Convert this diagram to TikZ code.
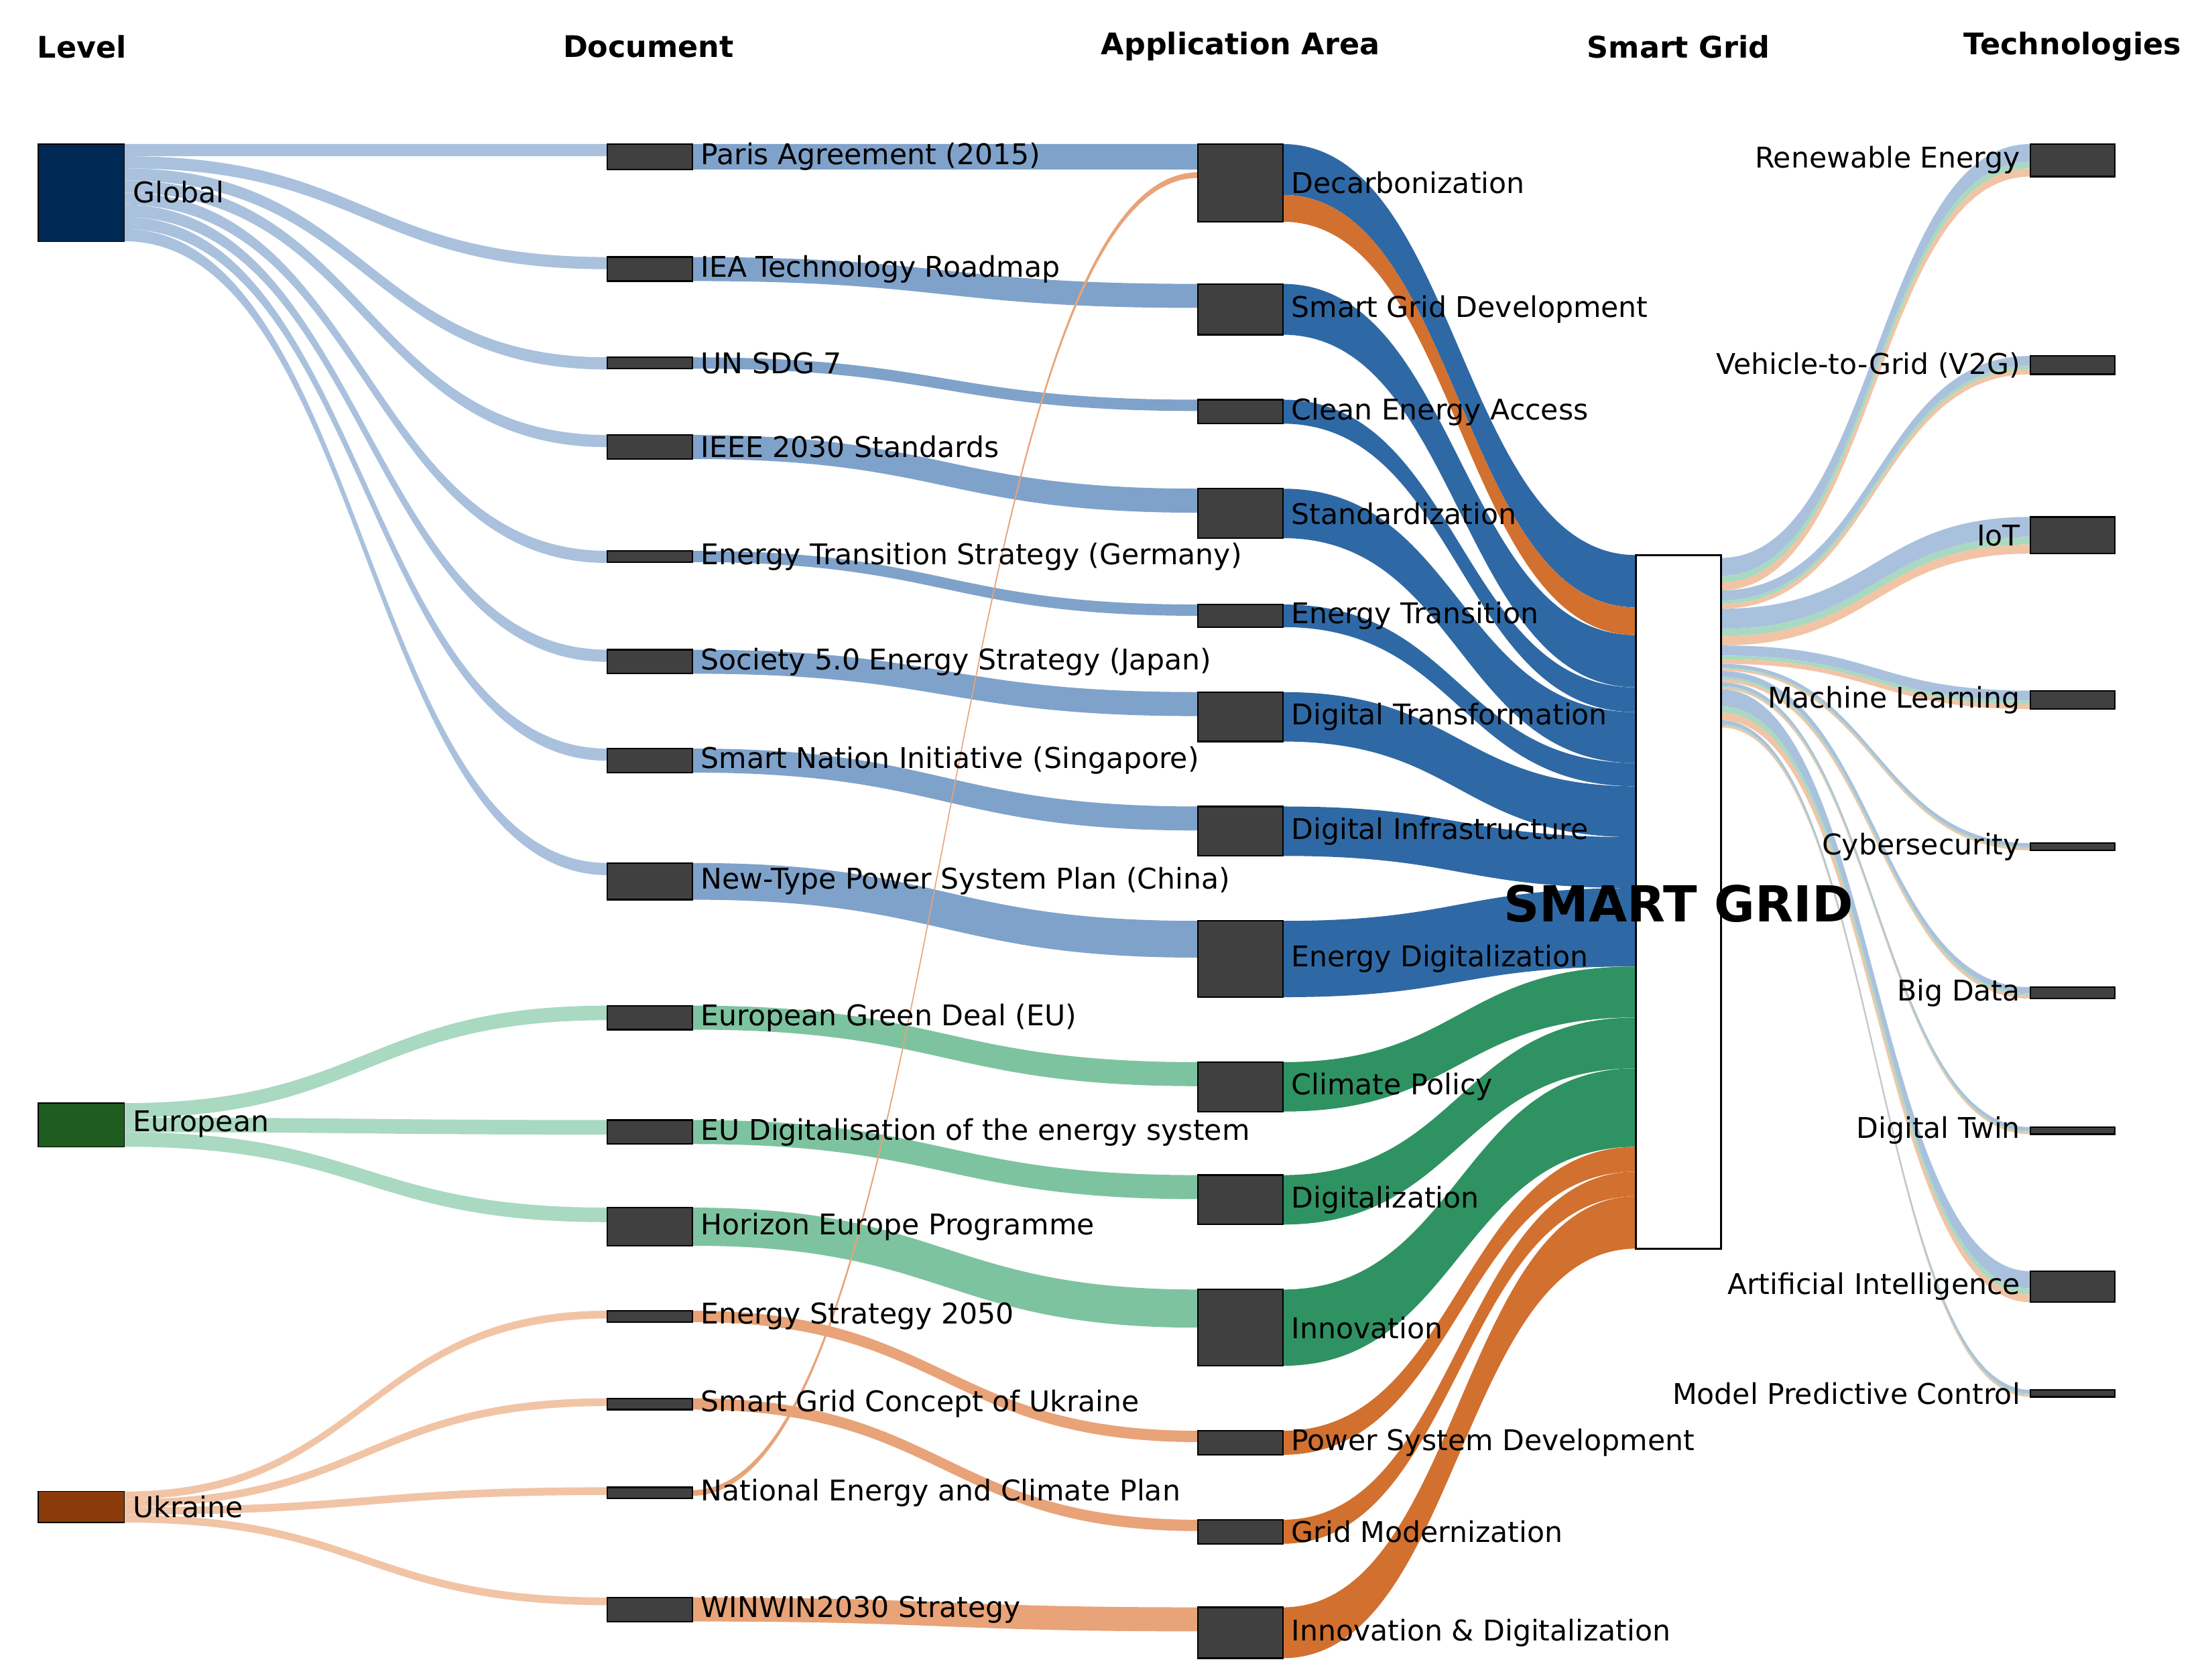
\documentclass[tikz,border=0pt]{standalone}
\usepackage{fontspec}
\setmainfont{DejaVu Sans}
\usetikzlibrary{positioning}
\definecolor{glnavy}{HTML}{002855}
\definecolor{eugreen}{HTML}{1E5C20}
\definecolor{uabrown}{HTML}{8B3A0A}
\definecolor{boxgray}{HTML}{404040}
\definecolor{lblue}{HTML}{A9C1DD}
\definecolor{lgreen}{HTML}{A9D9C1}
\definecolor{lorange}{HTML}{F1C4A6}
\definecolor{mblue}{HTML}{7FA2CA}
\definecolor{mgreen}{HTML}{7EC3A0}
\definecolor{morange}{HTML}{E8A378}
\definecolor{sblue}{HTML}{2F69A5}
\definecolor{sgreen}{HTML}{2F9262}
\definecolor{sorange}{HTML}{D2702F}
% band from (x1,top1) of width w1 to (x2,top2) of width w2
\newcommand{\flow}[7]{\fill[#7] (#1,{#2}) .. controls ({(#1+#4)/2},{#2}) and ({(#1+#4)/2},{#5}) .. (#4,{#5}) -- (#4,{#5+#6}) .. controls ({(#1+#4)/2},{#5+#6}) and ({(#1+#4)/2},{#2+#3}) .. (#1,{#2+#3}) -- cycle;}
% smart grid to technology, split by origin
\newcommand{\techflow}[3]{%
\flow{1218}{#1}{0.55*#3}{1437}{#2}{0.55*#3}{lblue}
\flow{1218}{#1+0.55*#3}{0.2*#3}{1437}{#2+0.55*#3}{0.2*#3}{lgreen}
\flow{1218}{#1+0.75*#3}{0.25*#3}{1437}{#2+0.75*#3}{0.25*#3}{lorange}}
\tikzset{
  nodebox/.style={draw=black,fill=boxgray,line width=0.6pt},
  lbl/.style={font=\fontsize{11.5}{12}\selectfont,inner sep=1pt},
  head/.style={font=\fontsize{12}{13}\selectfont\bfseries}
}
\begin{document}
\begin{tikzpicture}[x=0.02cm,y=-0.02cm]
\useasboundingbox (0,0) rectangle (1560,1189);
% headers
\node[head] (h-level) at (58,33) {Level};
\node[head] (h-doc) at (459,33) {Document};
\node[head] (h-app) at (878,33) {Application Area};
\node[head] (h-sg) at (1188,33) {Smart Grid};
\node[head] (h-tech) at (1467,33) {Technologies};
% level -> document
\foreach \t/\k in {102/0,182/1,253/2,308/3,390/4,460/5,530/6,611/7}
  {\flow{88}{102+\k*8.6}{8.6}{430}{\t}{8.6}{lblue}}
\foreach \t/\k in {712/0,793/1,855/2}
  {\flow{88}{781+\k*10.3}{10.3}{430}{\t}{10.3}{lgreen}}
\foreach \t/\k in {928/0,990/1,1053/2,1131/3}
  {\flow{88}{1056+\k*5.5}{5.5}{430}{\t}{5.5}{lorange}}
% document -> application
\foreach \s/\t/\w in {102/102/18,182/201/17,253/283/8,308/346/17,390/428/8,460/490/17,530/571/17,611/652/26}
  {\flow{490}{\s}{\w}{848}{\t}{\w}{mblue}}
\foreach \s/\t/\w in {712/752/17,793/832/17,855/913/27}
  {\flow{490}{\s}{\w}{848}{\t}{\w}{mgreen}}
\foreach \s/\t/\w in {928/1013/8,990/1076/8,1055/122/4,1131/1138/17}
  {\flow{490}{\s}{\w}{848}{\t}{\w}{morange}}
% application -> smart grid
\foreach \s/\w/\t in {102/36/393,201/36/449.6,283/17/486.7,346/35/504.2,428/16/540.2,490/35/556.7,571/35/592.7,652/54/628.7}
  {\flow{908}{\s}{\w}{1158}{\t}{\w*1.029}{sblue}}
\foreach \s/\w/\t in {752/35/684.3,832/35/720.4,913/54/756.4}
  {\flow{908}{\s}{\w}{1158}{\t}{\w*1.029}{sgreen}}
\foreach \s/\w/\t in {138/19/430.1,1013/17/812,1076/17/829.5,1138/36/847}
  {\flow{908}{\s}{\w}{1158}{\t}{\w*1.029}{sorange}}
% smart grid -> technologies
\techflow{395}{102}{23}
\techflow{418}{252}{13}
\techflow{431}{366}{26}
\techflow{457}{489}{13}
\techflow{470}{597}{5}
\techflow{475}{699}{8}
\techflow{483}{798}{5}
\techflow{488}{900}{22}
\techflow{510}{984}{5}
% level nodes
\fill[glnavy,draw=black] (27,102) rectangle (88,171);
\node[lbl,anchor=west] (l-global) at (92,136) {Global};
\fill[eugreen,draw=black] (27,781) rectangle (88,812);
\node[lbl,anchor=west] (l-europe) at (92,796) {European};
\fill[uabrown,draw=black] (27,1056) rectangle (88,1078);
\node[lbl,anchor=west] (l-ukraine) at (92,1067) {Ukraine};
% document nodes
\foreach \n/\y/\h/\t in {paris/102/18/Paris Agreement (2015),iea/182/17/IEA Technology Roadmap,sdg/253/8/UN SDG 7,ieee/308/17/IEEE 2030 Standards,ger/390/8/Energy Transition Strategy (Germany),jap/460/17/Society 5.0 Energy Strategy (Japan),sing/530/17/Smart Nation Initiative (Singapore),chn/611/26/New-Type Power System Plan (China),egd/712/17/European Green Deal (EU),eud/793/17/EU Digitalisation of the energy system,hor/855/27/Horizon Europe Programme,es/928/8/Energy Strategy 2050,sgc/990/8/Smart Grid Concept of Ukraine,nec/1053/8/National Energy and Climate Plan,win/1131/17/WINWIN2030 Strategy}{
  \draw[nodebox] (430,\y) rectangle (490,{\y+\h});
  \node[lbl,anchor=west] (d-\n) at (494,{\y+\h/2}) {\t};
}
% application nodes
\foreach \n/\y/\h/\t in {dec/102/55/Decarbonization,sgd/201/36/Smart Grid Development,cea/283/17/Clean Energy Access,std/346/35/Standardization,et/428/16/Energy Transition,dt/490/35/Digital Transformation,di/571/35/Digital Infrastructure,ed/652/54/Energy Digitalization,cp/752/35/Climate Policy,dig/832/35/Digitalization,inn/913/54/Innovation,psd/1013/17/Power System Development,gm/1076/17/Grid Modernization,id/1138/36/Innovation \& Digitalization}{
  \draw[nodebox] (848,\y) rectangle (908,{\y+\h});
  \node[lbl,anchor=west] (a-\n) at (912,{\y+\h/2}) {\t};
}
% smart grid node
\draw[draw=black,fill=white,line width=0.8pt] (1158,393) rectangle (1218,884);
\node[font=\fontsize{20}{22}\selectfont\bfseries] (sg) at (1188,640) {SMART GRID};
% technology nodes
\foreach \n/\y/\h/\t in {re/102/23/Renewable Energy,vtg/252/13/Vehicle-to-Grid (V2G),iot/366/26/IoT,ml/489/13/Machine Learning,cyb/597/5/Cybersecurity,bd/699/8/Big Data,tw/798/5/Digital Twin,ai/900/22/Artificial Intelligence,mpc/984/5/Model Predictive Control}{
  \draw[nodebox] (1437,\y) rectangle (1497,{\y+\h});
  \node[lbl,anchor=east] (t-\n) at (1432,{\y+\h/2}) {\t};
}
\end{tikzpicture}
\end{document}
